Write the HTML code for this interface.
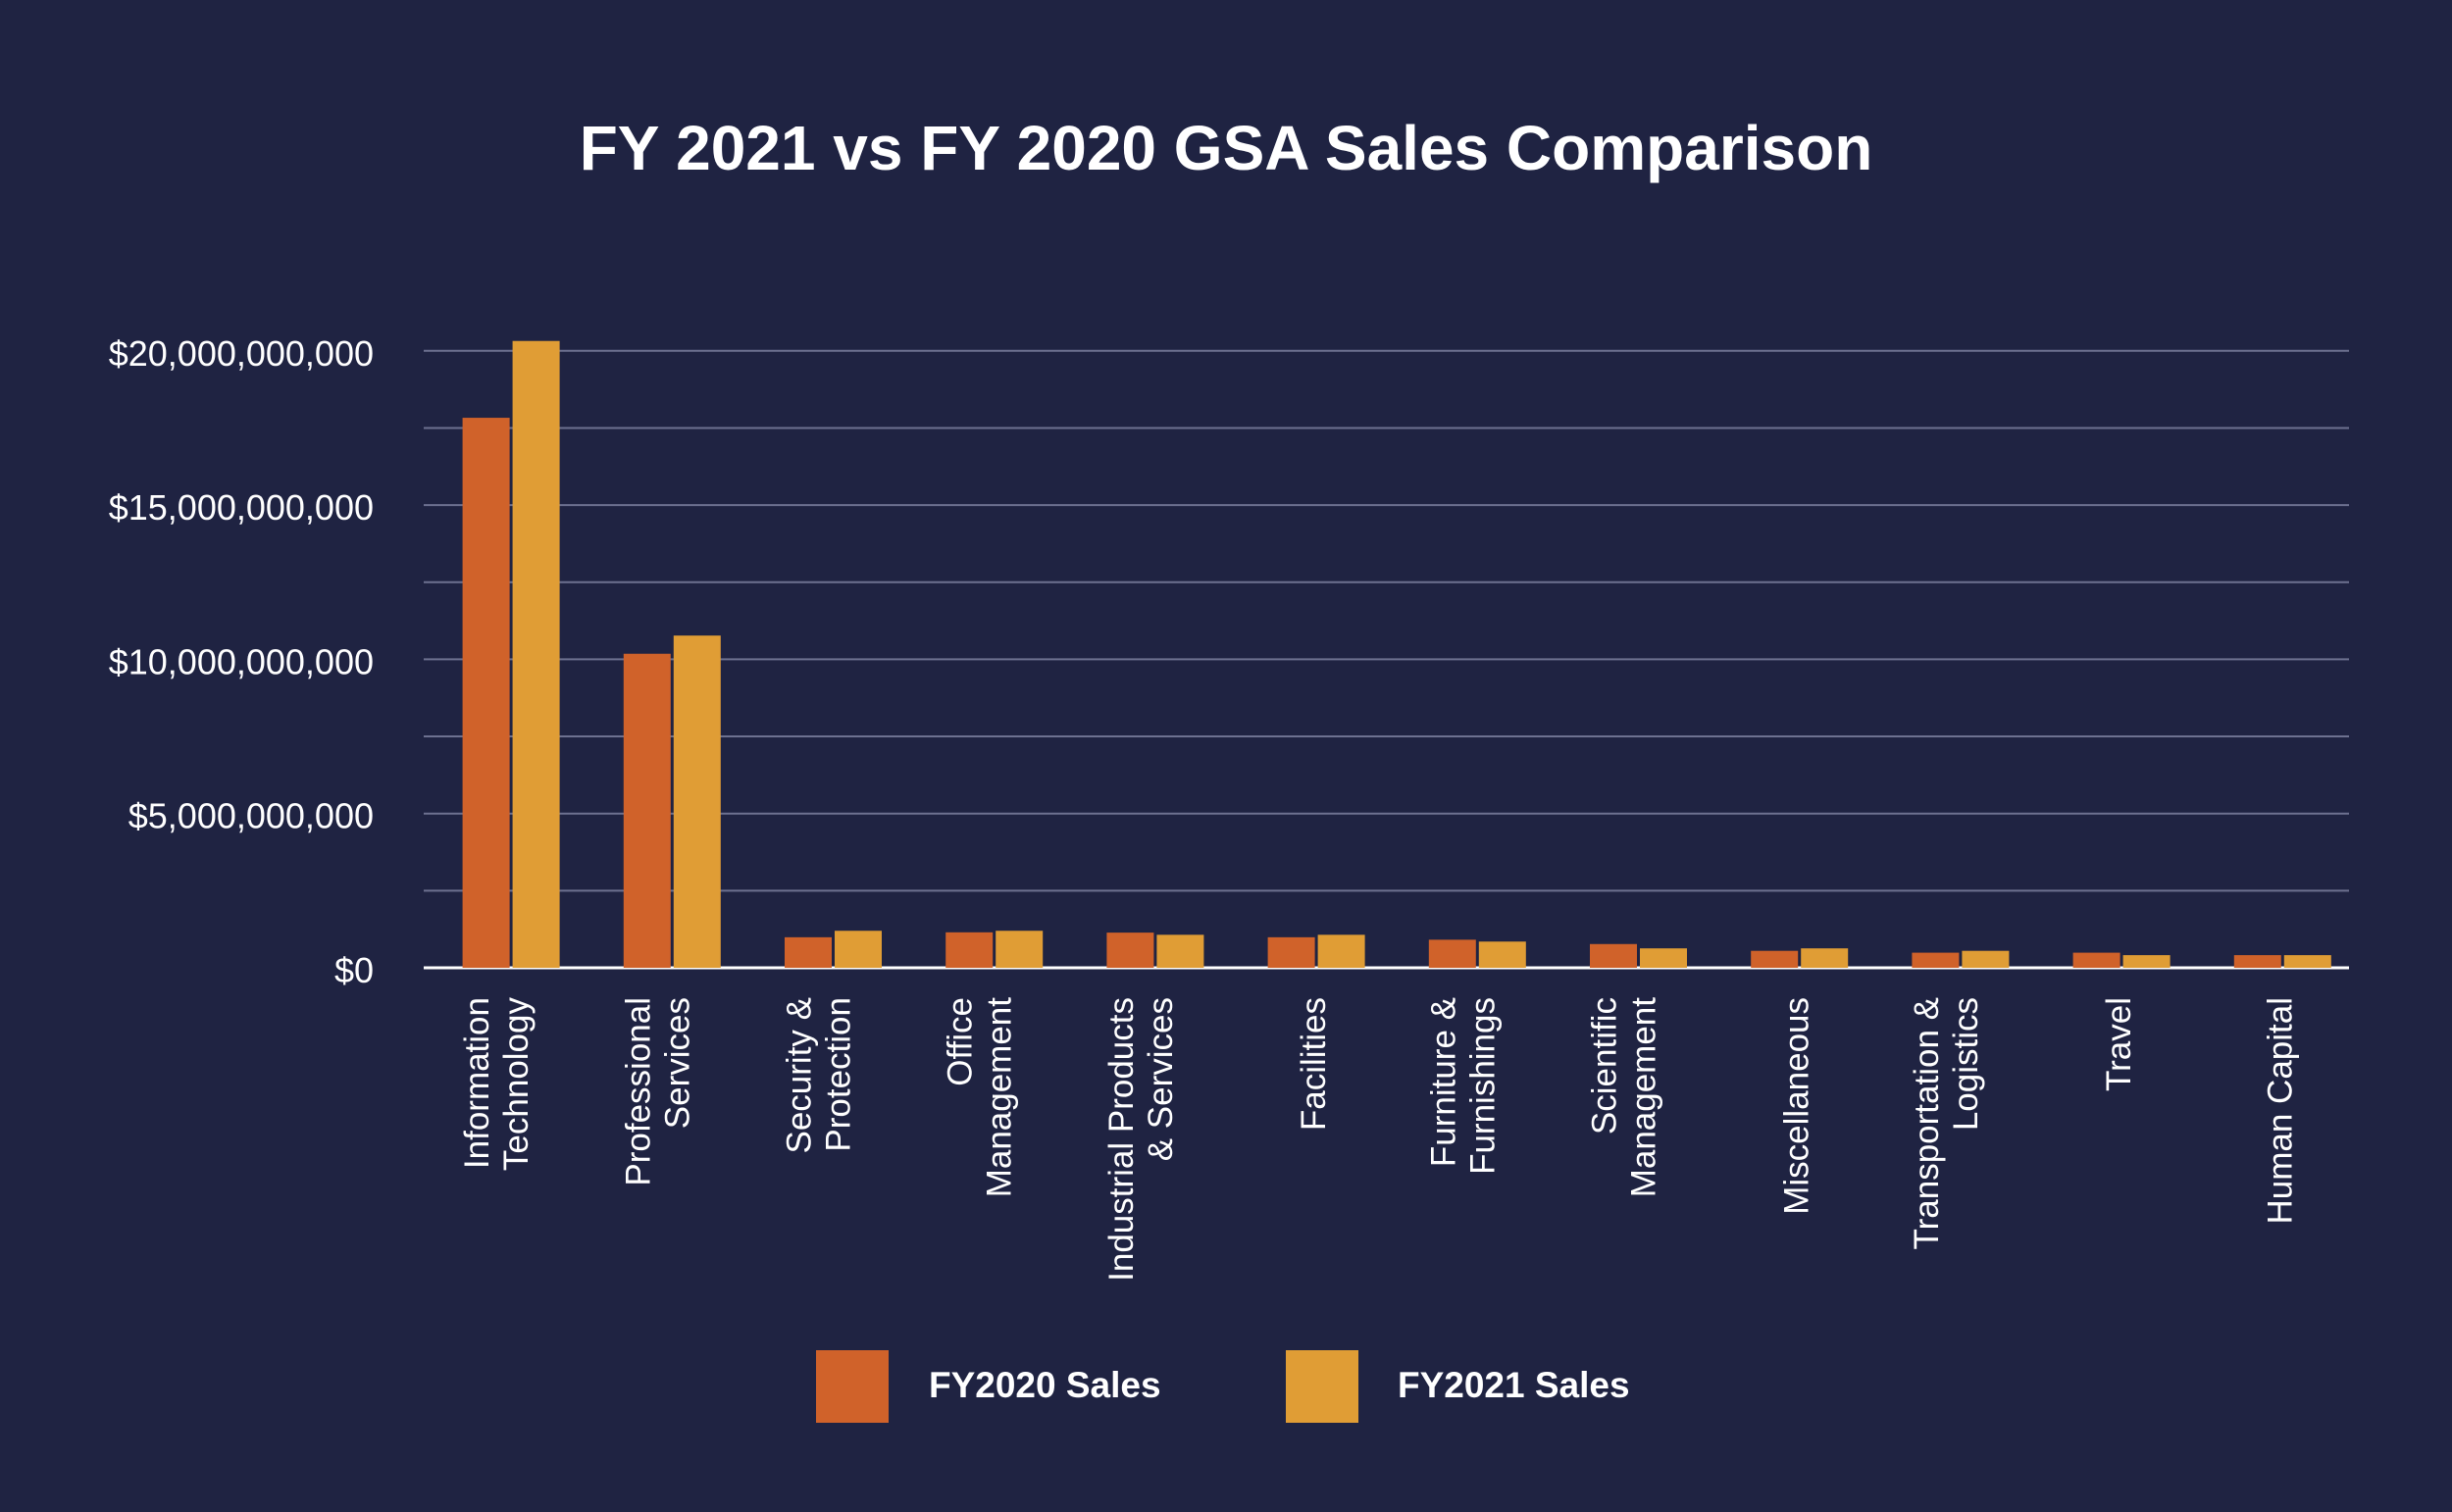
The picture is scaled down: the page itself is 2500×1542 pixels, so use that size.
<!DOCTYPE html>
<html><head><meta charset="utf-8"><style>
html,body{margin:0;padding:0;background:#1f2342;}
svg{display:block;font-family:"Liberation Sans",sans-serif;}
</style></head><body>
<svg id="chart" width="2500" height="1542" viewBox="0 0 2500 1542">
<rect width="2500" height="1542" fill="#1f2342"/>
<text x="1250" y="173" text-anchor="middle" fill="#ffffff" font-size="64" font-weight="bold">FY 2021 vs FY 2020 GSA Sales Comparison</text>
<g id="grid"></g><g id="bars"></g><g id="xlabels"></g><g id="ylabels"></g>
<g>
<rect x="832" y="1377" width="74" height="74" fill="#d0622a"/>
<text x="947" y="1425" fill="#fff" font-size="37" font-weight="bold">FY2020 Sales</text>
<rect x="1311" y="1377" width="74" height="74" fill="#e09d35"/>
<text x="1425" y="1425" fill="#fff" font-size="37" font-weight="bold">FY2021 Sales</text>
</g>
</svg>
<script>
const categories=[["Information","Technology"],["Professional","Services"],["Security &","Protection"],["Office","Management"],["Industrial Products","& Services"],["Facilities"],["Furniture &","Furnishings"],["Scientific","Management"],["Miscellaneous"],["Transportation &","Logistics"],["Travel"],["Human Capital"]];
const fy2020=[17.83,10.18,0.99,1.15,1.14,0.99,0.91,0.77,0.55,0.49,0.49,0.41];
const fy2021=[20.32,10.77,1.2,1.2,1.07,1.07,0.85,0.63,0.63,0.55,0.41,0.41];
const yTicks=[0,5,10,15,20];
const yTickLabels=["$0","$5,000,000,000","$10,000,000,000","$15,000,000,000","$20,000,000,000"];
const gridVals=[2.5,5,7.5,10,12.5,15,17.5,20];

const NS="http://www.w3.org/2000/svg";
const X0=432,X1=2395,Y0=987,PX=31.46;
const bx0=439,step=164.2,bw=48,gap=3;
function y(v){return Y0-v*PX;}
function cx(i){return bx0+(i+0.5)*step;}
function mk(t,a,p){const e=document.createElementNS(NS,t);for(const k in a)e.setAttribute(k,a[k]);p.appendChild(e);return e;}
const grid=document.getElementById('grid');
gridVals.forEach(v=>{
 const l=mk('line',{x1:X0,x2:X1,y1:y(v),y2:y(v),stroke:'#6d7190','stroke-width':2},grid);
 
 
});
const bars=document.getElementById('bars');
categories.forEach((c,i)=>{
 const a=mk('rect',{x:cx(i)-bw-gap/2,y:y(fy2020[i]),width:bw,height:fy2020[i]*PX,fill:'#d0622a'},bars);
 
 
 const b=mk('rect',{x:cx(i)+gap/2,y:y(fy2021[i]),width:bw,height:fy2021[i]*PX,fill:'#e09d35'},bars);
 
 
});
const ax=mk('line',{x1:X0,x2:X1,y1:Y0,y2:Y0,stroke:'#ffffff','stroke-width':3},grid);


const xl=document.getElementById('xlabels');
categories.forEach((c,i)=>{
 const offs=c.length===1?[-3]:[-35,5];
 c.forEach((line,j)=>{
  const x=cx(i)+offs[j]+12;
  const t=mk('text',{x:0,y:0,transform:`translate(${x},1017) rotate(-90)`,'text-anchor':'end',fill:'#fff','font-size':35},xl);
  t.textContent=line;
  
  
 });
});
const yl=document.getElementById('ylabels');
yTicks.forEach((v,i)=>{
 const t=mk('text',{x:381,y:y(v)+15,'text-anchor':'end',fill:'#fff','font-size':36},yl);
 t.textContent=yTickLabels[i];
 
 
});
</script>
</body></html>
